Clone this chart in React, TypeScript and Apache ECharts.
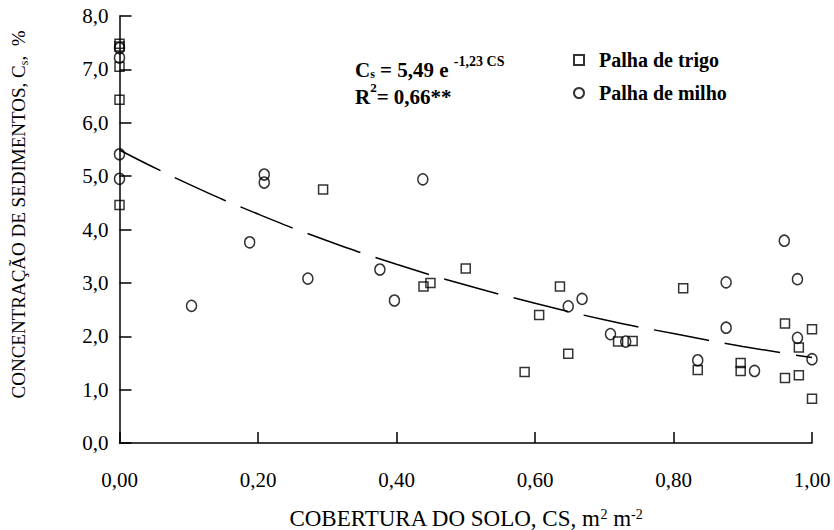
import React, { useEffect, useRef } from "react";
import * as echarts from "echarts";

// Palha de trigo (squares)
const trigoCobertura = [0, 0, 0, 0, 0, 0.294, 0.439, 0.449, 0.5, 0.585, 0.606, 0.636, 0.648, 0.72, 0.741, 0.814, 0.835, 0.897, 0.897, 0.961, 0.961, 0.981, 0.981, 1.0, 1.0];
const trigoConc = [7.48, 7.43, 7.05, 6.43, 4.46, 4.75, 2.93, 3.0, 3.27, 1.33, 2.4, 2.93, 1.67, 1.9, 1.91, 2.9, 1.37, 1.5, 1.35, 2.24, 1.22, 1.79, 1.27, 2.13, 0.83];

// Palha de milho (circles)
const milhoCobertura = [0, 0, 0, 0, 0.104, 0.188, 0.209, 0.209, 0.272, 0.376, 0.397, 0.438, 0.648, 0.668, 0.709, 0.731, 0.835, 0.876, 0.876, 0.917, 0.96, 0.979, 0.979, 1.0];
const milhoConc = [7.4, 7.22, 5.41, 4.95, 2.57, 3.76, 5.03, 4.88, 3.08, 3.25, 2.67, 4.94, 2.56, 2.7, 2.04, 1.9, 1.55, 3.01, 2.16, 1.35, 3.79, 3.07, 1.97, 1.57];

// Fitted curve
const curveCobertura = [0, 0.1, 0.2, 0.3, 0.4, 0.5, 0.6, 0.7, 0.8, 0.9, 1.0];
const curveConc = [5.49, 4.85, 4.29, 3.79, 3.35, 2.96, 2.62, 2.31, 2.05, 1.81, 1.6];

const seriesNames = ["Palha de trigo", "Palha de milho"];
const FONT = "Liberation Serif";

const zip = (a: number[], b: number[]) => a.map((v, i) => [v, b[i]]);

export default function App() {
  const ref = useRef<HTMLDivElement>(null);
  useEffect(() => {
    if (!ref.current) return;
    const chart = echarts.init(ref.current, undefined, { renderer: "svg" });
    const markerStyle = { color: "transparent", borderColor: "#000", borderWidth: 1.5 };
    chart.setOption({
      animation: false,
      backgroundColor: "#fff",
      grid: { left: 119.5, right: 22, top: 16, bottom: 87, containLabel: false, outerBoundsMode: "none" },
      xAxis: {
        type: "value",
        min: 0,
        max: 1,
        interval: 0.2,
        splitLine: { show: false },
        axisLine: { lineStyle: { color: "#000", width: 1.5 } },
        axisTick: { inside: true, length: 11, lineStyle: { color: "#000", width: 1.5 } },
        axisLabel: {
          margin: 26,
          color: "#000",
          fontFamily: FONT,
          fontSize: 21,
          formatter: (v: number) => v.toFixed(2).replace(".", ","),
        },
        name: "COBERTURA DO SOLO, CS, m{sup|2} m{sup|-2}",
        nameLocation: "middle",
        nameGap: 64,
        nameTextStyle: {
          color: "#000",
          fontFamily: FONT,
          fontSize: 23,
          rich: { sup: { fontSize: 14, fontFamily: FONT, color: "#000", verticalAlign: "top", lineHeight: 16 } },
        },
      },
      yAxis: {
        type: "value",
        min: 0,
        max: 8,
        interval: 1,
        splitLine: { show: false },
        axisLine: { show: true, lineStyle: { color: "#000", width: 1.5 } },
        axisTick: { show: true, inside: true, length: 12, lineStyle: { color: "#000", width: 1.5 } },
        axisLabel: {
          margin: 11,
          color: "#000",
          fontFamily: FONT,
          fontSize: 21,
          formatter: (v: number) => v.toFixed(1).replace(".", ","),
        },
        name: "CONCENTRAÇÃO DE SEDIMENTOS, C{sub|s},  %",
        nameLocation: "middle",
        nameGap: 90,
        nameTextStyle: {
          color: "#000",
          fontFamily: FONT,
          fontSize: 19,
          padding: [0, 0, 0, 30],
          rich: { sub: { fontSize: 12, fontFamily: FONT, color: "#000", verticalAlign: "bottom", lineHeight: 22 } },
        },
      },
      legend: {
        data: seriesNames,
        orient: "vertical",
        left: 568,
        top: 45,
        itemWidth: 10,
        itemHeight: 10,
        itemGap: 13,
        textStyle: {
          color: "#000",
          fontFamily: FONT,
          fontWeight: "bold",
          fontSize: 20,
          padding: [0, 0, 0, 10],
        },
      },
      graphic: [
        {
          type: "text",
          left: 355,
          top: 54,
          style: {
            text: "{b|C}{sub|s}{b| = 5,49 e }{sup|-1,23 CS}",
            rich: {
              b: { fontFamily: FONT, fontWeight: "bold", fontSize: 21, fill: "#000", lineHeight: 26, verticalAlign: "bottom" },
              sub: { fontFamily: FONT, fontWeight: "bold", fontSize: 12, fill: "#000", lineHeight: 26, verticalAlign: "bottom" },
              sup: { fontFamily: FONT, fontWeight: "bold", fontSize: 14, fill: "#000", lineHeight: 26, verticalAlign: "top" },
            },
          },
        },
        {
          type: "text",
          left: 355,
          top: 81,
          style: {
            text: "{b|R}{sup|2}{b|= 0,66**}",
            rich: {
              b: { fontFamily: FONT, fontWeight: "bold", fontSize: 21, fill: "#000", lineHeight: 26, verticalAlign: "bottom" },
              sup: { fontFamily: FONT, fontWeight: "bold", fontSize: 13, fill: "#000", lineHeight: 26, verticalAlign: "top" },
            },
          },
        },
      ],
      series: [
        {
          name: seriesNames[0],
          type: "scatter",
          symbol: "rect",
          symbolSize: 9,
          clip: false,
          itemStyle: markerStyle,
          data: zip(trigoCobertura, trigoConc),
          z: 3,
        },
        {
          name: seriesNames[1],
          type: "scatter",
          symbol: "circle",
          symbolSize: [10, 11],
          clip: false,
          itemStyle: markerStyle,
          data: zip(milhoCobertura, milhoConc),
          z: 3,
        },
        {
          name: "Ajuste",
          type: "line",
          smooth: true,
          symbol: "none",
          clip: false,
          lineStyle: { color: "#000", width: 1.5, type: [56, 16], dashOffset: 10 },
          data: zip(curveCobertura, curveConc),
          z: 2,
        },
      ],
    });
    return () => chart.dispose();
  }, []);
  return <div ref={ref} style={{ width: 834, height: 530, position: "absolute", left: 0, top: 0 }} />;
}
